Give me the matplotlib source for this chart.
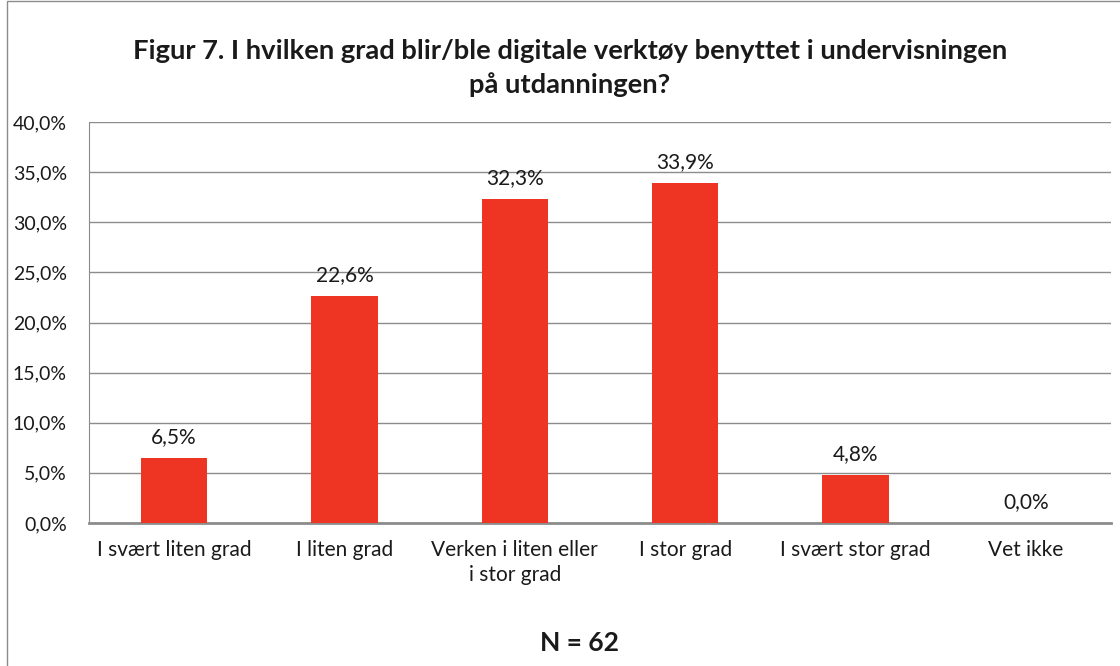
import matplotlib
matplotlib.use("Agg")
import matplotlib.pyplot as plt
from matplotlib.patches import Rectangle
from matplotlib.ticker import FuncFormatter

categories = ["I svært liten grad", "I liten grad", "Verken i liten eller\ni stor grad",
              "I stor grad", "I svært stor grad", "Vet ikke"]
values = [6.5, 22.6, 32.3, 33.9, 4.8, 0.0]
title = "Figur 7. I hvilken grad blir/ble digitale verktøy benyttet i undervisningen\npå utdanningen?"
note = "N = 62"

plt.rcParams['font.family'] = ['Lato', 'DejaVu Sans']

fig = plt.figure(figsize=(11.2, 6.66), dpi=100)
ax = fig.add_axes([89/1120, 1 - 523/666, 1022/1120, 401/666])

x = range(len(values))
ax.bar(x, values, width=0.39, color="#EE3524", zorder=3)
for i, v in enumerate(values):
    ax.text(i, v + 1.1, f"{v:.1f}%".replace(".", ","), ha="center", va="bottom",
            fontsize=15, color="#1a1a1a")

ax.set_xlim(-0.5, len(values) - 0.5)
ax.set_ylim(0, 40)
ax.set_yticks(range(0, 41, 5))
ax.yaxis.set_major_formatter(FuncFormatter(lambda v, p: f"{v:.1f}%".replace(".", ",")))
ax.set_xticks(list(x))
ax.set_xticklabels(categories, fontsize=15, color="#1a1a1a", linespacing=1.35)
ax.tick_params(axis="y", labelsize=14, labelcolor="#1a1a1a", length=0, pad=16)
ax.tick_params(axis="x", length=0, pad=12)
ax.grid(axis="y", color="#8c8c8c", linewidth=1, zorder=0)
for s in ["top", "right"]:
    ax.spines[s].set_visible(False)
ax.spines["left"].set_color("#8c8c8c")
ax.spines["bottom"].set_color("#8c8c8c")
ax.spines["bottom"].set_linewidth(2)

fig.text(570/1120, 1 - 68/666, title, ha="center", va="center", fontsize=19.7,
         fontweight="bold", color="#1a1a1a", linespacing=1.45)
fig.text(579/1120, 1 - 643/666, note, ha="center", va="center", fontsize=19,
         fontweight="bold", color="#1a1a1a")

fig.patches.append(Rectangle((7/1120, -0.01), 1.05, 1 - 1/666 + 0.01, transform=fig.transFigure,
                             fill=False, edgecolor="#8c8c8c", linewidth=1))

fig.savefig("out.png", dpi=100, facecolor="white")
